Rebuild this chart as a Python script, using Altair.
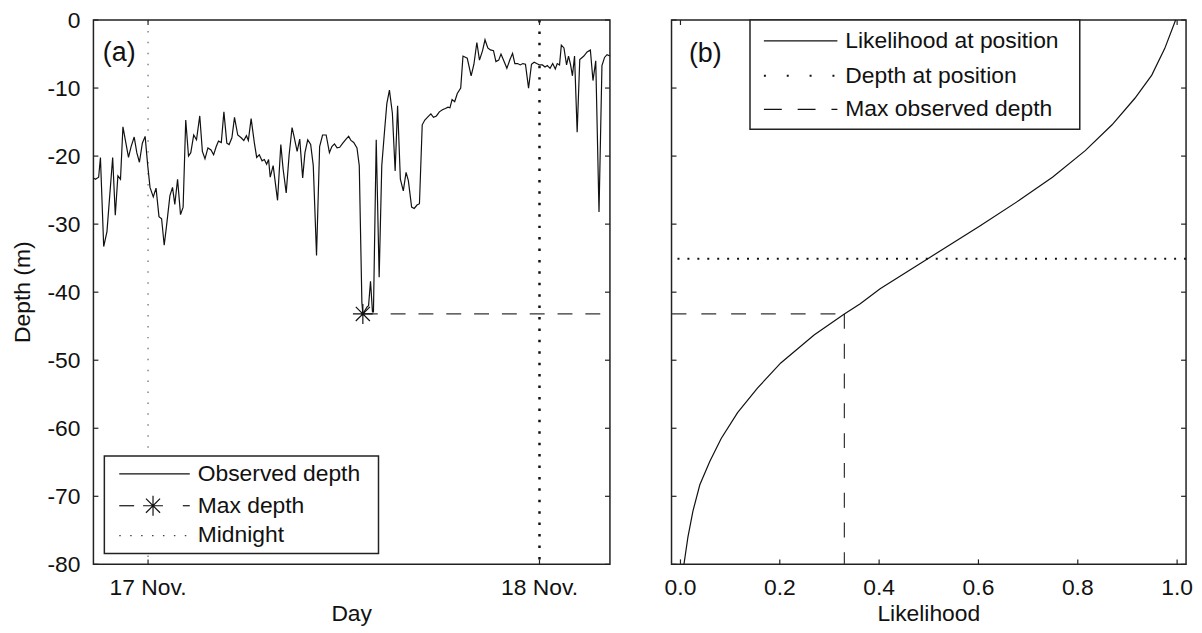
import altair as alt
import pandas as pd

FONT = "Liberation Sans"
INK = "#111111"
FRAME = "#222222"
FS = 23

# ---------------- panel (a): observed depth ----------------
obs_hours = [
    -3.35, -3.23, -3.03, -2.92, -2.72, -2.52, -2.17, -2.01, -1.85, -1.69,
    -1.54, -1.20, -1.04, -0.85, -0.69, -0.53, -0.35, -0.18, -0.02, 0.12,
    0.32, 0.49, 0.67, 0.83, 0.99, 1.14, 1.34, 1.50, 1.64, 1.81,
    1.99, 2.15, 2.31, 2.48, 2.62, 2.80, 2.97, 3.17, 3.33, 3.49,
    3.67, 3.86, 4.02, 4.18, 4.32, 4.49, 4.65, 4.83, 4.97, 5.14,
    5.30, 5.50, 5.71, 5.87, 6.03, 6.15, 6.32, 6.52, 6.66, 6.82,
    6.99, 7.13, 7.27, 7.39, 7.49, 7.67, 7.94, 8.14, 8.28, 8.47,
    8.65, 8.83, 8.95, 9.14, 9.30, 9.48, 9.62, 9.79, 9.97, 10.13,
    10.33, 10.52, 10.70, 10.92, 11.12, 11.27, 11.43, 11.59, 11.75, 11.94,
    12.14, 12.30, 12.44, 12.61, 12.81, 12.95, 13.11, 13.17, 13.42, 13.52,
    13.64, 13.76, 13.82, 13.99, 14.17, 14.33, 14.49, 14.64, 14.80, 14.98,
    15.15, 15.30, 15.47, 15.65, 15.82, 15.96, 16.16, 16.32, 16.49, 16.64,
    16.81, 16.97, 17.17, 17.34, 17.50, 17.68, 17.86, 18.05, 18.23, 18.39,
    18.51, 18.64, 18.80, 18.96, 19.17, 19.31, 19.57, 19.81, 19.98, 20.16,
    20.32, 20.51, 20.66, 20.83, 20.99, 21.18, 21.33, 21.50, 21.64, 21.85,
    22.00, 22.19, 22.35, 22.49, 22.66, 22.82, 22.98, 23.14, 23.33, 23.51,
    23.67, 23.83, 24.00, 24.18, 24.34, 24.48, 24.65, 24.81, 24.97, 25.09,
    25.23, 25.34, 25.50, 25.66, 25.78, 25.90, 26.02, 26.15, 26.31, 26.47,
    26.72, 26.92, 27.12, 27.28, 27.45, 27.65, 27.83, 27.99, 28.14, 28.32,
]
obs_depth = [
    -23.2, -23.4, -23.1, -20.2, -33.3, -31.1, -20.2, -28.7, -22.9, -23.4,
    -15.7, -20.2, -18.6, -17.2, -19.5, -20.9, -18.1, -17.1, -21.4, -24.6,
    -26.0, -24.7, -28.9, -29.2, -33.1, -30.1, -25.8, -24.6, -27.1, -23.4,
    -28.6, -27.5, -14.7, -20.0, -19.5, -16.9, -17.6, -14.1, -19.3, -20.4,
    -18.8, -19.1, -19.8, -18.6, -17.8, -18.0, -13.5, -18.1, -18.3, -17.3,
    -14.3, -16.9, -17.3, -17.7, -17.0, -17.7, -14.5, -18.1, -20.2, -19.8,
    -20.7, -20.5, -21.2, -20.5, -23.1, -21.4, -26.5, -18.3, -21.9, -25.4,
    -19.8, -15.8, -17.1, -19.3, -17.5, -23.2, -19.5, -17.6, -18.3, -21.4,
    -34.6, -18.6, -16.9, -16.9, -19.5, -18.6, -18.2, -18.8, -18.7, -18.1,
    -17.5, -17.1, -17.7, -18.0, -18.8, -21.4, -41.5, -43.2, -42.2, -42.0,
    -38.4, -42.9, -42.9, -17.6, -37.8, -21.4, -16.6, -12.3, -10.3, -13.7,
    -22.2, -12.6, -23.4, -25.1, -22.4, -23.6, -27.5, -27.7, -27.2, -27.0,
    -15.4, -14.7, -14.2, -13.8, -14.3, -14.1, -13.5, -13.2, -13.0, -12.8,
    -12.9, -11.7, -12.0, -10.8, -10.0, -5.3, -5.6, -8.2, -6.5, -3.3,
    -5.9, -4.5, -2.9, -4.1, -4.4, -4.5, -6.1, -5.9, -5.0, -6.2,
    -7.1, -5.8, -4.9, -6.4, -6.4, -6.6, -6.4, -6.5, -10.0, -6.5,
    -6.2, -6.4, -6.6, -6.6, -6.9, -6.7, -7.1, -6.4, -7.2, -6.4,
    -6.6, -3.7, -4.1, -6.6, -5.3, -6.5, -8.2, -5.3, -16.5, -5.8,
    -5.3, -4.7, -4.4, -8.9, -6.0, -28.2, -6.7, -5.5, -5.1, -5.3,
]
max_hours = 13.17
max_depth = -43.2
start_hours = -3.35
end_hours = 28.32
midnight_hours = [0, 24]
midnight_labels = ["17 Nov.", "18 Nov."]
depth_ticks = [-80, -70, -60, -50, -40, -30, -20, -10, 0]
depth_tick_labels = ["-80", "-70", "-60", "-50", "-40", "-30", "-20", "-10", "0"]
depth_domain = [-80, 0]
legend_a = ["Observed depth", "Max depth", "Midnight"]

# ---------------- panel (b): likelihood ----------------
lik_depth = [0.0, -4.2, -8.1, -11.5, -15.4, -19.2, -23.1, -26.5, -30.3, -34.9,
             -39.5, -41.7, -43.2, -46.3, -50.4, -54.1, -57.7, -61.5, -64.9,
             -68.3, -72.2, -76.0, -80.0]
lik_value = [0.997, 0.975, 0.949, 0.915, 0.869, 0.815, 0.749, 0.682, 0.602, 0.502,
             0.402, 0.362, 0.33, 0.269, 0.202, 0.155, 0.115, 0.082, 0.059,
             0.039, 0.025, 0.015, 0.007]
position_depth = -35.1
lik_at_max = 0.33
lik_ticks = [0.0, 0.2, 0.4, 0.6, 0.8, 1.0]
lik_tick_labels = ["0.0", "0.2", "0.4", "0.6", "0.8", "1.0"]
lik_domain = [-0.018, 1.018]
legend_b = ["Likelihood at position", "Depth at position", "Max observed depth"]

STAR = "M-1,0L1,0M0,-1L0,1M-0.71,-0.71L0.71,0.71M-0.71,0.71L0.71,-0.71"

W_A, W_B, H = 520, 518, 548
TL = 5  # inward tick length

df_obs = pd.DataFrame({"t": obs_hours, "depth": obs_depth})
df_mid = pd.DataFrame({"t": midnight_hours, "lab": midnight_labels})
df_max = pd.DataFrame({"t": [max_hours], "t2": [end_hours], "depth": [max_depth]})
df_lik = pd.DataFrame({"L": lik_value, "depth": lik_depth})
df_pos = pd.DataFrame({"depth": [position_depth]})
df_dash = pd.DataFrame({"L0": [lik_domain[0]], "L": [lik_at_max],
                        "depth": [max_depth], "d2": [depth_domain[0]]})
df_dt = pd.DataFrame({"depth": depth_ticks, "lab": depth_tick_labels})
df_lt = pd.DataFrame({"L": lik_ticks, "lab": lik_tick_labels})
one = pd.DataFrame({"k": [0]})

xs_a = alt.Scale(domain=[start_hours, end_hours], nice=False, zero=False)
xs_b = alt.Scale(domain=lik_domain, nice=False, zero=False)
ys = alt.Scale(domain=depth_domain, nice=False, zero=False)


def seg(x1, x2, y, dash=None, width=1.2, color=INK):
    kw = {"strokeDash": dash} if dash else {}
    return alt.Chart(one).mark_rule(color=color, strokeWidth=width, **kw).encode(
        x=alt.value(x1), x2=alt.value(x2), y=alt.value(y))


def label(text, x, y, size=FS, align="left", baseline="middle", angle=0):
    return alt.Chart(pd.DataFrame({"label": [text]})).mark_text(
        align=align, baseline=baseline, font=FONT, fontSize=size, color=INK, angle=angle
    ).encode(x=alt.value(x), y=alt.value(y), text="label:N")


def box(x1, x2, y1, y2):
    return alt.Chart(one).mark_rect(fill="white", stroke=FRAME, strokeWidth=1.5).encode(
        x=alt.value(x1), x2=alt.value(x2), y=alt.value(y1), y2=alt.value(y2))


def frame_ticks(width, xscale, xfield, df_x):
    """inward ticks on all four sides of the frame"""
    r = dict(color=FRAME, strokeWidth=1.2)
    yl = alt.Chart(df_dt).mark_rule(**r).encode(
        y=alt.Y("depth:Q", scale=ys, axis=None), x=alt.value(0), x2=alt.value(TL))
    yr = alt.Chart(df_dt).mark_rule(**r).encode(
        y=alt.Y("depth:Q", scale=ys, axis=None), x=alt.value(width - TL), x2=alt.value(width))
    xb = alt.Chart(df_x).mark_rule(**r).encode(
        x=alt.X(xfield, scale=xscale, axis=None), y=alt.value(H - TL), y2=alt.value(H))
    xt = alt.Chart(df_x).mark_rule(**r).encode(
        x=alt.X(xfield, scale=xscale, axis=None), y=alt.value(0), y2=alt.value(TL))
    return [yl, yr, xb, xt]


def x_tick_labels(df_x, xfield, xscale):
    return alt.Chart(df_x).mark_text(
        align="center", baseline="alphabetic", font=FONT, fontSize=FS, color=INK
    ).encode(x=alt.X(xfield, scale=xscale, axis=None), y=alt.value(H + 31), text="lab:N")


# ---------------- panel (a) layers ----------------
mid1 = alt.Chart(df_mid.iloc[[0]]).mark_rule(color="#666666", strokeWidth=1.2, strokeDash=[1.5, 9.5]).encode(
    x=alt.X("t:Q", scale=xs_a, axis=None))
mid2 = alt.Chart(df_mid.iloc[[1]]).mark_rule(color=INK, strokeWidth=2.5, strokeDash=[2.5, 9]).encode(
    x=alt.X("t:Q", scale=xs_a, axis=None))
obs_line = alt.Chart(df_obs).mark_line(color=INK, strokeWidth=1.2).encode(
    x=alt.X("t:Q", scale=xs_a, axis=None),
    y=alt.Y("depth:Q", scale=ys, axis=None))
max_rule = alt.Chart(df_max).mark_rule(color="#333333", strokeWidth=1.2, strokeDash=[15, 13]).encode(
    x=alt.X("t:Q", scale=xs_a, axis=None), x2="t2:Q",
    y=alt.Y("depth:Q", scale=ys, axis=None))
max_star = alt.Chart(df_max).mark_point(shape=STAR, size=400, filled=False, color=INK,
                                        strokeWidth=1.2, opacity=1).encode(
    x=alt.X("t:Q", scale=xs_a, axis=None), y=alt.Y("depth:Q", scale=ys, axis=None))
y_labels = alt.Chart(df_dt).mark_text(
    align="right", baseline="middle", font=FONT, fontSize=FS, color=INK, dy=1
).encode(y=alt.Y("depth:Q", scale=ys, axis=None), x=alt.value(-13), text="lab:N")

leg_a = [
    box(11, 287, 439, 537),
    seg(26, 97, 457),
    label(legend_a[0], 105, 457),
    seg(26, 41, 489),
    seg(90, 97, 489),
    alt.Chart(one).mark_point(shape=STAR, size=400, filled=False, color=INK, strokeWidth=1.2,
                              opacity=1).encode(x=alt.value(60), y=alt.value(489)),
    label(legend_a[1], 105, 489),
    seg(26, 97, 519, dash=[1.5, 9.5], width=1.2, color="#444444"),
    label(legend_a[2], 105, 519),
]

panel_a = alt.layer(
    mid1, mid2, obs_line, max_rule, max_star,
    *frame_ticks(W_A, xs_a, "t:Q", df_mid),
    y_labels, x_tick_labels(df_mid, "t:Q", xs_a),
    label("Day", W_A / 2, H + 57, align="center", baseline="alphabetic"),
    label("Depth (m)", -64, H / 2, align="center", baseline="alphabetic", angle=270),
    *leg_a,
    label("(a)", 26, 33, size=27, align="center"),
).properties(width=W_A, height=H)

# ---------------- panel (b) layers ----------------
lik_line = alt.Chart(df_lik).mark_line(color=INK, strokeWidth=1.2).encode(
    x=alt.X("L:Q", scale=xs_b, axis=None),
    y=alt.Y("depth:Q", scale=ys, axis=None),
    order=alt.Order("depth:Q", sort="descending"))
pos_rule = alt.Chart(df_pos).mark_rule(color=INK, strokeWidth=2, strokeDash=[2, 8]).encode(
    y=alt.Y("depth:Q", scale=ys, axis=None))
dash_h = alt.Chart(df_dash).mark_rule(color="#333333", strokeWidth=1.2, strokeDash=[15, 15]).encode(
    x=alt.X("L0:Q", scale=xs_b, axis=None), x2="L:Q", y=alt.Y("depth:Q", scale=ys, axis=None))
dash_v = alt.Chart(df_dash).mark_rule(color="#333333", strokeWidth=1.2, strokeDash=[15, 15]).encode(
    x=alt.X("L:Q", scale=xs_b, axis=None), y=alt.Y("depth:Q", scale=ys, axis=None), y2="d2:Q")

leg_b = [
    box(79, 411, 0, 110),
    seg(93, 167, 21),
    label(legend_b[0], 175, 21),
    seg(93, 167, 56, dash=[2, 21], width=2),
    label(legend_b[1], 175, 56),
    seg(93, 167, 90, dash=[18, 16]),
    label(legend_b[2], 175, 90),
]

panel_b = alt.layer(
    pos_rule, dash_h, dash_v, lik_line,
    *frame_ticks(W_B, xs_b, "L:Q", df_lt),
    x_tick_labels(df_lt, "L:Q", xs_b),
    label("Likelihood", W_B / 2, H + 57, align="center", baseline="alphabetic"),
    *leg_b,
    label("(b)", 34, 34, size=27, align="center"),
).properties(width=W_B, height=H)

chart = alt.hconcat(panel_a, panel_b, spacing=50).properties(
    padding={"left": 3, "top": -1, "right": 0, "bottom": 0}
).configure_view(stroke=FRAME, strokeWidth=1.5)

chart.save("out.html", embed_options={"renderer": "svg", "actions": False})
